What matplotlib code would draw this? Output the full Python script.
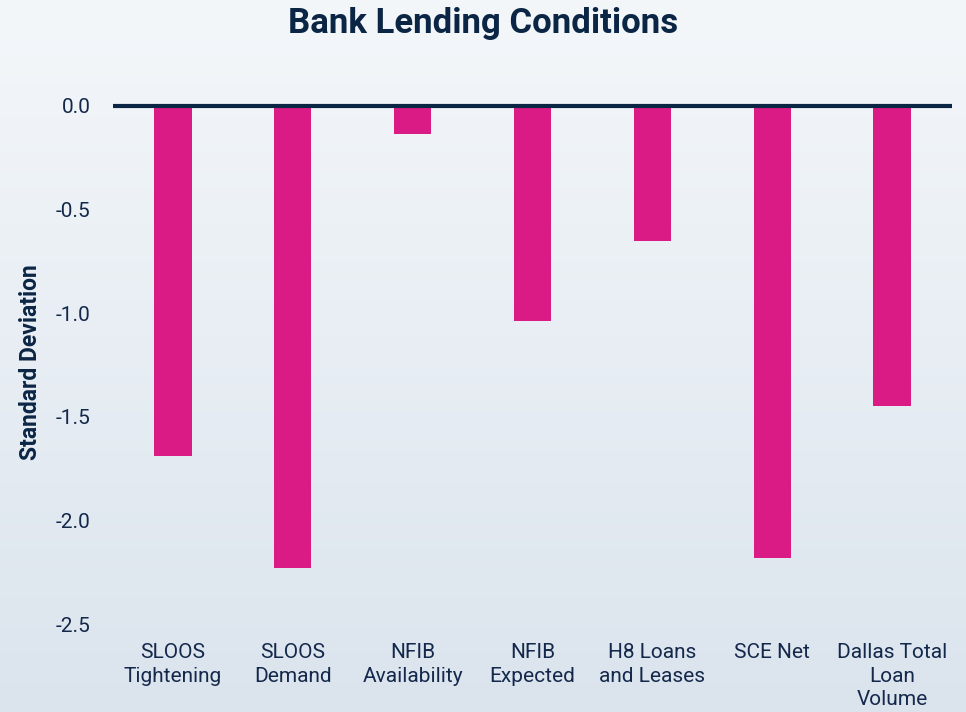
import matplotlib.pyplot as plt
import numpy as np

plt.rcParams['font.family'] = ['Roboto', 'DejaVu Sans']

categories = ['SLOOS\nTightening', 'SLOOS\nDemand', 'NFIB\nAvailability', 'NFIB\nExpected',
              'H8 Loans\nand Leases', 'SCE Net', 'Dallas Total\nLoan\nVolume']
values = [-1.69, -2.23, -0.135, -1.04, -0.65, -2.18, -1.45]
yticks = [0.0, -0.5, -1.0, -1.5, -2.0, -2.5]

navy = '#0b2545'
pink = '#da1a85'

fig = plt.figure(figsize=(9.66, 7.12), dpi=100)

# gradient background
bg = fig.add_axes([0, 0, 1, 1], zorder=-10)
grad = np.linspace(0, 1, 256).reshape(-1, 1)
top = np.array([0xf4, 0xf7, 0xfa]) / 255
bot = np.array([0xdb, 0xe4, 0xed]) / 255
img = top + (bot - top) * grad[:, :, None]
bg.imshow(img, aspect='auto', extent=[0, 1, 0, 1])
bg.axis('off')

ax = fig.add_axes([113 / 966, 1 - 624 / 712, 839 / 966, (624 - 89.4) / 712])
ax.patch.set_alpha(0)
x = np.arange(len(categories))
ax.bar(x, values, width=0.31, color=pink, zorder=2)
ax.axhline(0, color=navy, lw=3, zorder=3)

ax.set_xlim(-0.5, 6.5)
ax.set_ylim(-2.5, 0.08)
ax.set_yticks(yticks)
ax.set_yticklabels(['%.1f' % t for t in yticks])
ax.set_xticks(x)
ax.set_xticklabels(categories, linespacing=1.3)
ax.tick_params(axis='both', length=0, labelsize=15, labelcolor='#14284b')
ax.tick_params(axis='y', pad=16)
ax.tick_params(axis='x', pad=14)
for s in ax.spines.values():
    s.set_visible(False)

ax.set_ylabel('Standard Deviation', fontsize=16.5, fontweight='bold', color=navy)
ax.yaxis.set_label_coords(-0.085, 0.49)

fig.suptitle('Bank Lending Conditions', fontsize=25, fontweight='bold', color=navy, y=0.99, va='top')

fig.savefig('out.png', dpi=100)
